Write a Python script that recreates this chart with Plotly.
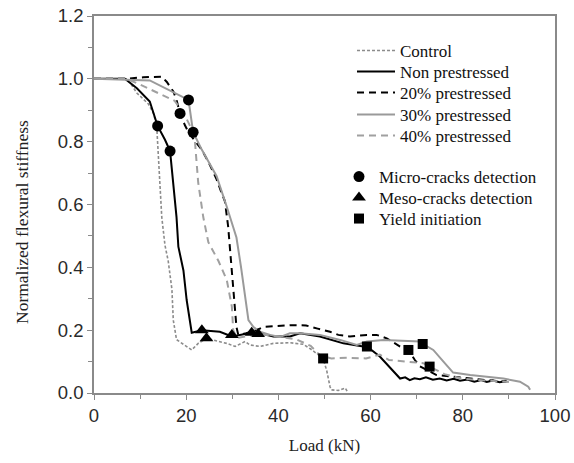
import plotly.graph_objects as go

# ---- data ----
control_x = [0, 7.2, 7.8, 9.3, 11.8, 12.9, 13.6, 13.9, 14.3, 14.7, 15.4, 16.1, 16.9, 17.2, 17.9, 19.7, 21.2, 22.6,
             24.4, 27.0, 28.8, 30.6, 32.8, 33.8, 36.0, 38.9, 42.5, 45.4, 47.0, 49.7, 50.5, 51.2, 51.5, 53.0, 54.5, 55.0]
control_y = [1.0, 1.0, 0.988, 0.955, 0.92, 0.89, 0.85, 0.77, 0.67, 0.56, 0.47, 0.42, 0.33, 0.232, 0.17, 0.153, 0.137,
             0.158, 0.174, 0.164, 0.158, 0.148, 0.164, 0.153, 0.148, 0.158, 0.16, 0.155, 0.14, 0.11, 0.07, 0.02, 0.01,
             0.008, 0.016, 0.003]

non_x = [0, 6.7, 9.3, 12.1, 13.8, 15.4, 16.5, 17.2, 17.9, 18.3, 19.4, 20.1, 20.8, 21.2, 23.4, 27.3, 29.9, 32.4, 34.2,
         36.0, 38.9, 42.5, 44.7, 49.0, 54.1, 58.4, 59.2, 62.0, 64.2, 66.4, 67.5, 68.5, 69.5, 70.7, 72.0, 73.5, 75.0,
         76.5, 78.0, 79.4, 81.0, 82.5, 84.0, 85.2, 86.5, 88.0, 89.5]
non_y = [1.0, 1.0, 0.97, 0.928, 0.85, 0.806, 0.77, 0.67, 0.56, 0.466, 0.39, 0.296, 0.232, 0.192, 0.2, 0.195, 0.18,
         0.188, 0.192, 0.19, 0.18, 0.18, 0.19, 0.18, 0.158, 0.148, 0.148, 0.116, 0.08, 0.046, 0.05, 0.041, 0.047,
         0.044, 0.05, 0.042, 0.046, 0.04, 0.045, 0.039, 0.043, 0.036, 0.041, 0.035, 0.04, 0.034, 0.038]

p20_x = [0, 7.1, 10.7, 14.7, 15.8, 17.2, 17.9, 18.66, 19.7, 20.5, 22.0, 23.4, 25.0, 26.6, 27.7, 28.4, 29.1, 29.5,
         30.2, 30.6, 30.9, 31.3, 33.0, 35.3, 36.7, 42.5, 46.0, 48.5, 51.2, 53.0, 55.5, 59.2, 61.3, 63.5, 66.4, 68.2,
         69.6, 70.7, 74.3, 77.9, 81.6, 85.2, 89.5]
p20_y = [1.0, 1.0, 1.005, 1.007, 0.99, 0.96, 0.933, 0.89, 0.853, 0.83, 0.8, 0.774, 0.73, 0.68, 0.636, 0.61, 0.53,
         0.455, 0.35, 0.275, 0.21, 0.185, 0.19, 0.2, 0.21, 0.216, 0.215, 0.205, 0.195, 0.185, 0.18, 0.185, 0.185,
         0.174, 0.148, 0.137, 0.105, 0.085, 0.057, 0.052, 0.046, 0.041, 0.036]

p30_x = [0, 12.1, 20.5, 21.0, 21.5, 23.4, 26.6, 28.8, 30.9, 31.9, 32.8, 33.5, 34.6, 36.0, 38.2, 40.3, 42.5, 44.7,
         49.0, 53.4, 57.0, 59.2, 62.8, 66.4, 70.7, 71.3, 73.6, 75.8, 77.9, 81.6, 85.2, 88.8, 92.4, 94.2, 94.6]
p30_y = [1.0, 0.995, 0.933, 0.88, 0.83, 0.774, 0.69, 0.593, 0.495, 0.4, 0.307, 0.232, 0.21, 0.195, 0.185, 0.178,
         0.19, 0.19, 0.185, 0.169, 0.153, 0.164, 0.169, 0.167, 0.164, 0.156, 0.137, 0.1, 0.065, 0.057, 0.052, 0.046,
         0.036, 0.02, 0.01]

p40_x = [0, 7.0, 9.5, 12.5, 15.5, 17.5, 19.5, 21.5, 21.9, 22.6, 23.7, 24.8, 27.0, 28.8, 29.9, 30.2, 31.0, 33.0,
         35.6, 40.0, 44.0, 47.0, 49.0, 51.5, 55.0, 59.0, 62.0, 64.0, 68.5, 71.4, 72.8, 76.0, 80.0, 85.0, 90.0]
p40_y = [1.0, 1.0, 0.985, 0.965, 0.945, 0.93, 0.89, 0.83, 0.8, 0.67, 0.56, 0.48, 0.42, 0.36, 0.275, 0.2, 0.175, 0.18,
         0.188, 0.18, 0.17, 0.15, 0.12, 0.11, 0.112, 0.11, 0.122, 0.105, 0.1, 0.095, 0.084, 0.06, 0.045, 0.04, 0.035]

micro_x = [13.8, 16.5, 18.66, 20.5, 21.5]
micro_y = [0.85, 0.77, 0.89, 0.933, 0.83]
meso_x = [23.4, 24.4, 29.9, 34.2, 35.6]
meso_y = [0.2, 0.174, 0.185, 0.192, 0.188]
yield_x = [49.7, 59.2, 68.2, 71.3, 72.8]
yield_y = [0.11, 0.148, 0.137, 0.156, 0.084]

x_ticks = [0, 20, 40, 60, 80, 100]
y_ticks = [0.0, 0.2, 0.4, 0.6, 0.8, 1.0, 1.2]

x_title = "Load (kN)"
y_title = "Normalized flexural stiffness"

serif = "Liberation Serif, Times New Roman, serif"
sans = "Liberation Sans, Arial, sans-serif"

# plot area in pixels (for legend placement)
L, R, T, B = 94, 19, 16, 70
W, H = 574, 463
pw, ph = W - L - R, H - T - B


def px_to_paper(xp, yp):
    return (xp - L) / pw, (H - B - yp) / ph


fig = go.Figure()
line_specs = [
    ("Control", control_x, control_y, dict(color="#8c8c8c", width=1.6, dash="3px,2px")),
    ("Non prestressed", non_x, non_y, dict(color="black", width=2)),
    ("20% prestressed", p20_x, p20_y, dict(color="black", width=2, dash="7px,5px")),
    ("30% prestressed", p30_x, p30_y, dict(color="#9a9a9a", width=2)),
    ("40% prestressed", p40_x, p40_y, dict(color="#a0a0a0", width=2, dash="7px,5px")),
]
marker_specs = [
    ("Micro-cracks detection", micro_x, micro_y, dict(symbol="circle", size=11, color="black")),
    ("Meso-cracks detection", meso_x, meso_y, dict(symbol="triangle-up", size=12, color="black")),
    ("Yield initiation", yield_x, yield_y, dict(symbol="square", size=10, color="black")),
]
line_rows = [51, 72, 93, 115, 136]
marker_rows = [177, 198, 219]

legends = {}
k = 1
for (name, xs, ys, ln), row in zip(line_specs, line_rows):
    k += 1
    key = f"legend{k}"
    fig.add_trace(go.Scatter(x=xs, y=ys, mode="lines", name=name, line=ln, legend=key))
    lx, ly = px_to_paper(352, row)
    legends[key] = dict(x=lx, y=ly, xanchor="left", yanchor="middle", bgcolor="rgba(0,0,0,0)",
                        font=dict(family=serif, size=17, color="#111"), itemwidth=38)
for (name, xs, ys, mk), row in zip(marker_specs, marker_rows):
    k += 1
    key = f"legend{k}"
    fig.add_trace(go.Scatter(x=xs, y=ys, mode="markers", name=name, marker=mk, legend=key))
    lx, ly = px_to_paper(339, row)
    legends[key] = dict(x=lx, y=ly, xanchor="left", yanchor="middle", bgcolor="rgba(0,0,0,0)",
                        font=dict(family=serif, size=17, color="#111"), itemwidth=30)

axis_common = dict(showline=True, linecolor="#8a8a8a", linewidth=1.5, mirror=True,
                   ticks="outside", ticklen=5, tickcolor="#8a8a8a", tickwidth=1.2,
                   showgrid=False, zeroline=False, automargin=False,
                   tickfont=dict(family=sans, size=18.5, color="#2a2a2a"))

ytx, yty = px_to_paper(22, 222)

fig.update_layout(
    width=W, height=H,
    margin=dict(l=L, r=R, t=T, b=B, autoexpand=False),
    plot_bgcolor="white", paper_bgcolor="white",
    xaxis=dict(range=[0, 100], tickvals=x_ticks, ticktext=[str(v) for v in x_ticks],
               minor=dict(ticks="outside", ticklen=4, dtick=10, tickcolor="#8a8a8a"),
               title=dict(text=x_title, font=dict(family=serif, size=17, color="#222"), standoff=14),
               **axis_common),
    yaxis=dict(range=[0, 1.2], tickvals=y_ticks, ticktext=[f"{v:.1f}" for v in y_ticks],
               minor=dict(ticks="outside", ticklen=4, dtick=0.1, tickcolor="#8a8a8a"),
               **axis_common),
    annotations=[dict(text=y_title, xref="paper", yref="paper", x=ytx, y=yty, textangle=-90,
                      showarrow=False, xanchor="center", yanchor="middle",
                      font=dict(family=serif, size=17.5, color="#222"))],
    **legends,
)

fig.write_html("out.html")
